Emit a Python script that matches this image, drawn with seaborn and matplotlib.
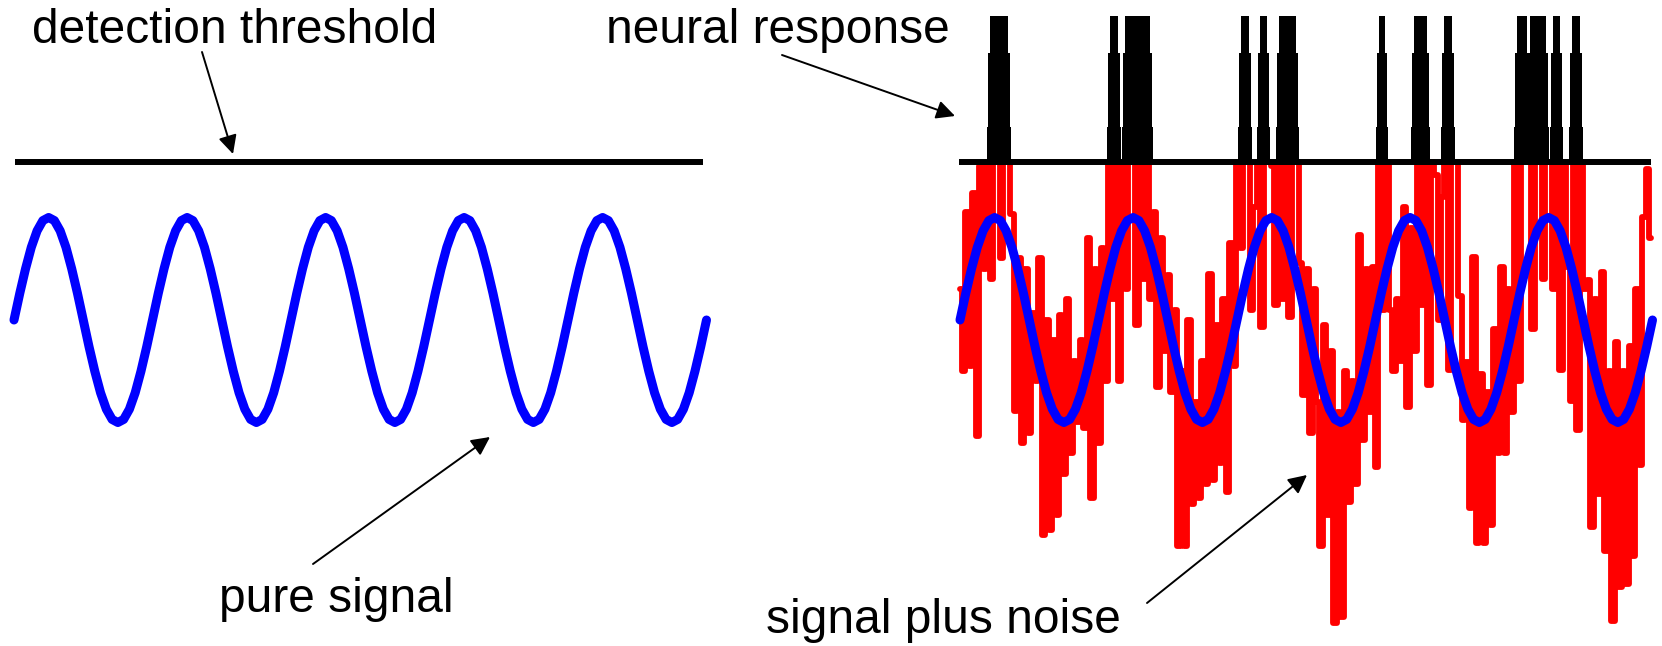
import numpy as np
import matplotlib
matplotlib.use('Agg')
import matplotlib.pyplot as plt
import seaborn as sns

# --- datos (amplitud de la senal = 1, periodo = 1) ---
# un ciclo de la senal pura, muestreado cada 15 grados
signal_cycle = [0.0, 0.26, 0.5, 0.71, 0.87, 0.97, 1.0, 0.97, 0.87, 0.71, 0.5, 0.26,
                0.0, -0.26, -0.5, -0.71, -0.87, -0.97, -1.0, -0.97, -0.87, -0.71, -0.5, -0.26]
n_cycles = 5

threshold = 1.54      # umbral de deteccion
spike_top = 2.97      # altura de los disparos neuronales

# senal + ruido (200 muestras a lo largo de los 5 ciclos)
noisy = [0.3, -0.5, 1.05, -0.45, 1.24, -1.13, 1.5, 0.5, 1.6, 0.4,
         1.6, 1.6, 0.6, 1.6, 1.6, 1.03, -0.89, 0.6, -1.2, 0.5,
         -1.1, 0.07, -0.6, 0.6, -2.1, 0.0, -2.05, -0.2, -1.9, 0.05,
         -1.5, 0.2, -1.3, -0.4, -1.0, -0.2, -1.05, 0.8, -1.74, 0.5,
         -1.2, 0.7, -0.6, 1.6, 0.2, 1.6, -0.6, 1.6, 0.3, 1.6,
         1.6, -0.05, 1.6, 0.4, 1.6, 0.2, 1.05, -0.65, 0.8, -0.3,
         0.44, -0.7, 0.1, -2.2, -0.5, -2.2, 0.0, -1.8, -0.8, -1.74,
         -0.4, -1.6, 0.45, -1.56, -0.05, -1.4, 0.2, -1.68, 0.75, -0.45,
         1.6, 0.7, 1.6, 1.6, 0.1, 1.1, 1.6, -0.07, 1.6, 1.6,
         1.5, 0.15, 1.6, 0.2, 1.6, 0.03, 1.6, 1.6, 0.56, -0.73,
         0.5, -1.1, 0.3, -0.8, -2.2, -0.05, -1.9, -0.3, -2.96, -0.9,
         -2.9, -0.5, -1.78, -0.6, -1.6, 0.83, -1.17, 0.5, -0.9, 0.52,
         -1.43, 1.6, 0.1, 1.6, 0.1, -0.5, 0.2, -0.4, 1.1, -0.85,
         0.9, -0.3, 1.6, 0.15, 1.6, -0.63, 1.6, 1.41, 0.0, 1.2,
         1.6, -0.49, 1.6, 1.6, 0.23, -0.98, -0.41, -1.83, 0.61, -2.18,
         -0.53, -2.18, -0.7, -2.0, -0.09, -1.3, 0.52, -1.3, 0.3, -0.9,
         1.6, -0.6, 1.6, 1.6, 1.6, -0.09, 1.6, 1.6, 0.4, 1.6,
         1.6, 0.3, 1.6, -0.49, 1.6, 0.52, -0.79, 1.6, -1.07, 1.6,
         0.3, 0.39, -2.02, 0.2, -1.7, 0.47, -2.25, -0.5, -2.94, -0.21,
         -2.6, -0.5, -2.58, -0.25, -2.3, 0.3, -1.41, 1.0, 1.47, 0.8]

# respuesta neuronal: inicio y fin de cada disparo (en periodos)
spike_start = [0.195, 1.061, 1.170, 2.007, 2.144, 2.282, 3.004, 3.256, 3.473, 4.000, 4.094, 4.260, 4.397]
spike_end = [0.368, 1.162, 1.394, 2.108, 2.238, 2.448, 3.090, 3.394, 3.574, 4.116, 4.253, 4.354, 4.498]

labels = ["detection threshold", "neural response", "pure signal", "signal plus noise"]

# --- geometria de la figura (pixeles) ---
W, H = 1662, 646
PX_PERIOD = 138.5
MID_Y, AMP_PX = 320, 102.5

sns.set_style("white")
plt.rcParams['font.family'] = ['Liberation Sans', 'DejaVu Sans']

fig = plt.figure(figsize=(W / 100, H / 100), dpi=100)


def panel(origin_px, left_px, right_px):
    ax = fig.add_axes([left_px / W, 0, (right_px - left_px) / W, 1])
    ax.set_xlim((left_px - origin_px) / PX_PERIOD, (right_px - origin_px) / PX_PERIOD)
    ax.set_ylim((MID_Y - H) / AMP_PX, MID_Y / AMP_PX)
    ax.axis('off')
    return ax


ax_l = panel(14, 0, 800)
ax_r = panel(960, 880, W)

pure = np.append(np.tile(signal_cycle, n_cycles), signal_cycle[0])
t_pure = np.linspace(0, n_cycles, len(pure))
t_noisy = np.linspace(0, 4.99, len(noisy))
noisy_clip = np.minimum(np.array(noisy), threshold)

# panel izquierdo: senal pura bajo el umbral
ax_l.plot([0.007, 4.975], [threshold, threshold], color='black', lw=4.3, solid_capstyle='butt', zorder=2)
sns.lineplot(x=t_pure, y=pure, ax=ax_l, color='#0000ff', linewidth=6.5, errorbar=None, zorder=3)

# panel derecho: senal + ruido, umbral y disparos
sns.lineplot(x=t_noisy, y=noisy_clip, ax=ax_r, color='#ff0000', linewidth=4.2, errorbar=None,
             drawstyle='steps-mid', zorder=1)
ax_r.plot([-0.007, 4.99], [threshold, threshold], color='black', lw=4.3, solid_capstyle='butt', zorder=2)
start = np.array(spike_start)
width = np.array(spike_end) - start
# cada disparo se estrecha un poco hacia arriba (escalones)
for lo, hi, inset in [(threshold, 1.88, 0.0), (1.88, 2.60, 0.008), (2.60, spike_top, 0.02)]:
    ax_r.bar(start + inset, hi - lo, width=width - 2 * inset, bottom=lo, align='edge',
             color='black', linewidth=0, zorder=2)
sns.lineplot(x=t_pure, y=pure, ax=ax_r, color='#0000ff', linewidth=6.5, errorbar=None, zorder=3)

# textos y flechas (coordenadas en pixeles de la imagen)
text_pos = [(32, 43), (606, 43), (219, 612), (766, 633)]
for txt, (x, y) in zip(labels, text_pos):
    fig.text(x / W, 1 - y / H, txt, fontsize=34.5, va='baseline', ha='left', color='black')

arrows = [((202, 52), (233, 154)), ((782, 55), (955, 116)),
          ((313, 564), (490, 437)), ((1147, 603), (1307, 475))]
for (x0, y0), (x1, y1) in arrows:
    fig.add_artist(matplotlib.patches.FancyArrowPatch(
        (x0 / W, 1 - y0 / H), (x1 / W, 1 - y1 / H), transform=fig.transFigure,
        arrowstyle='-|>', mutation_scale=28, lw=1.4, color='black', shrinkA=0, shrinkB=0))

fig.savefig("out.png", dpi=100)
